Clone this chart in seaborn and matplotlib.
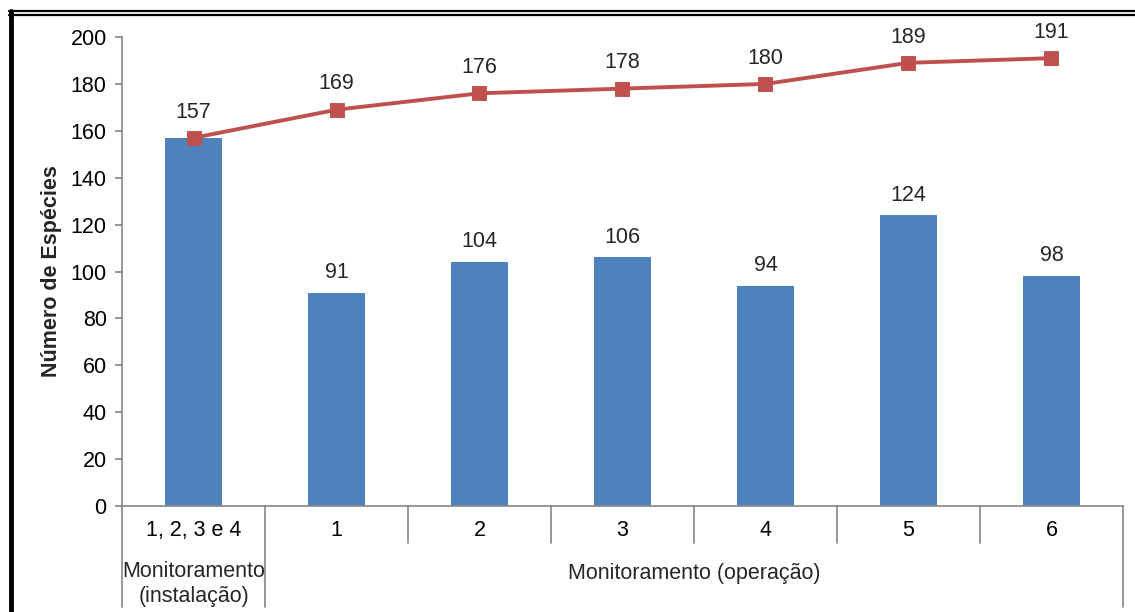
import matplotlib
matplotlib.use("Agg")
import matplotlib.pyplot as plt
import matplotlib.transforms as mtransforms
from matplotlib.lines import Line2D
import seaborn as sns
import pandas as pd

# Campaign labels, species per campaign and cumulative species richness
campanhas = ["1, 2, 3 e 4", "1", "2", "3", "4", "5", "6"]
especies = [157, 91, 104, 106, 94, 124, 98]
acumulado = [157, 169, 176, 178, 180, 189, 191]
grupos = ["Monitoramento\n(instalação)", "Monitoramento (operação)"]
yticks = [0, 20, 40, 60, 80, 100, 120, 140, 160, 180, 200]

sns.set_theme(style="white")
plt.rcParams["font.family"] = ["Liberation Sans", "DejaVu Sans"]

BAR = "#4F81BD"
LINE = "#C0504D"
AXIS = "#868686"
FS = 15.5

df = pd.DataFrame({"campanha": campanhas, "especies": especies, "acumulado": acumulado})

fig = plt.figure(figsize=(11.35, 6.12), dpi=100)
ax = fig.add_axes([0.1075, 0.1732, 0.8819, 0.7663])

sns.barplot(data=df, x="campanha", y="especies", color=BAR, width=0.4,
            saturation=1, ax=ax, order=campanhas, linewidth=0)
sns.pointplot(data=df, x="campanha", y="acumulado", color=LINE, markers="s",
              order=campanhas, ax=ax, markersize=8.5, linewidth=2.8)

ax.set_xlim(-0.5, len(campanhas) - 0.5)
ax.set_ylim(0, 200)
ax.set_yticks(yticks)
ax.tick_params(axis="y", labelsize=FS, length=5, color=AXIS, direction="out",
               left=True, pad=6, labelcolor="black")
ax.set_xticks(range(len(campanhas)))
ax.set_xticklabels(campanhas, fontsize=FS, color="black")
ax.tick_params(axis="x", length=0, pad=10)
ax.set_xlabel("")
ax.set_ylabel("Número de Espécies", fontsize=15.5, fontweight="bold", labelpad=6)

for side in ["top", "right"]:
    ax.spines[side].set_visible(False)
for side in ["left", "bottom"]:
    ax.spines[side].set_color(AXIS)
    ax.spines[side].set_linewidth(1.2)

# Value labels (the first campaign shares one label for bar and line)
for i, (b, c) in enumerate(zip(especies, acumulado)):
    if i > 0:
        ax.annotate(str(b), (i, b), xytext=(0, 7), textcoords="offset points",
                    ha="center", va="bottom", fontsize=FS)
    ax.annotate(str(c), (i, c), xytext=(0, 11), textcoords="offset points",
                ha="center", va="bottom", fontsize=FS)

# Category dividers below the axis
trans = mtransforms.blended_transform_factory(ax.transData, ax.transAxes)
for k in range(len(campanhas) + 1):
    x = k - 0.5
    y_end = -0.215 if k in (0, 1, len(campanhas)) else -0.079
    ax.add_line(Line2D([x, x], [0, y_end], transform=trans, color=AXIS,
                       lw=1.2, clip_on=False))

# Group labels
ax.text(0, -0.117, grupos[0], transform=trans, ha="center", va="top",
        fontsize=FS, linespacing=1.25)
ax.text((0.5 + len(campanhas) - 0.5) / 2, -0.122, grupos[1], transform=trans,
        ha="center", va="top", fontsize=FS)

# Figure frame: thick left edge and double top rule
fig.add_artist(Line2D([11 / 1135, 11 / 1135], [0, 1 - 11 / 612],
                      transform=fig.transFigure, color="black", lw=3.5))
fig.add_artist(Line2D([9 / 1135, 1], [1 - 10.5 / 612, 1 - 10.5 / 612],
                      transform=fig.transFigure, color="black", lw=1.6))
fig.add_artist(Line2D([9 / 1135, 1], [1 - 14.5 / 612, 1 - 14.5 / 612],
                      transform=fig.transFigure, color="black", lw=1.6))

fig.savefig("out.png", dpi=100)
